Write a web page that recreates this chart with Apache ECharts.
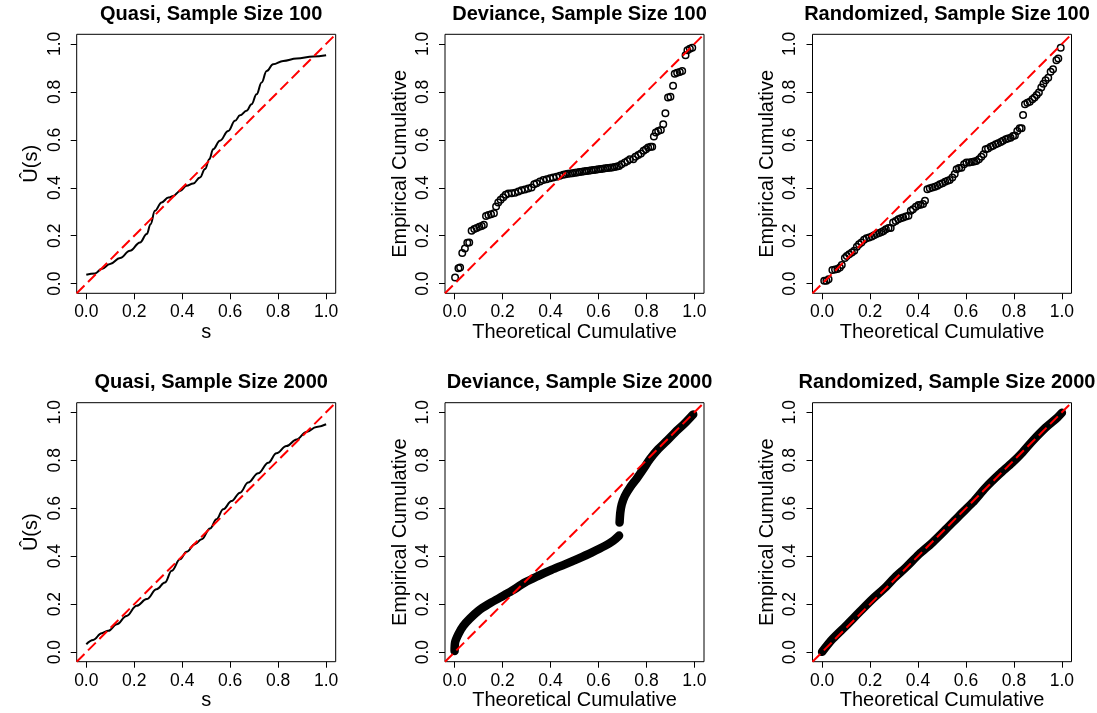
<!DOCTYPE html>
<html>
<head>
<meta charset="utf-8">
<script src="https://cdn.jsdelivr.net/npm/echarts@6.0.0/dist/echarts.min.js"></script>
<style>
  html, body { margin: 0; padding: 0; background: #fff; }
  #chart-panel { width: 1097px; height: 713px; }
</style>
</head>
<body>
<div id="chart-panel"></div>
<script>
// tick labels shared by every panel
const ticks = [0, 0.2, 0.4, 0.6, 0.8, 1.0]
const axisRange = [-0.04, 1.04]

// Quasi, n = 100 : [s, U(s)]
const quasiSmall = [
  [0.0, 0.037], [0.036, 0.043], [0.064, 0.061], [0.099, 0.082], [0.141, 0.107],
  [0.182, 0.137], [0.224, 0.172], [0.252, 0.207], [0.268, 0.248], [0.286, 0.304],
  [0.314, 0.339], [0.342, 0.359], [0.363, 0.366], [0.391, 0.387], [0.418, 0.408],
  [0.446, 0.418], [0.474, 0.443], [0.495, 0.478], [0.513, 0.519], [0.529, 0.561],
  [0.557, 0.596], [0.592, 0.637], [0.62, 0.679], [0.641, 0.702], [0.668, 0.721],
  [0.689, 0.748], [0.71, 0.79], [0.731, 0.839], [0.752, 0.887], [0.779, 0.915],
  [0.821, 0.929], [0.877, 0.939], [0.946, 0.947], [1.0, 0.953]
]

// Quasi, n = 2000
const quasiLarge = [
  [0.0, 0.033], [0.029, 0.051], [0.064, 0.079], [0.092, 0.089], [0.127, 0.116],
  [0.168, 0.151], [0.21, 0.193], [0.252, 0.221], [0.293, 0.262], [0.328, 0.29],
  [0.356, 0.339], [0.391, 0.387], [0.418, 0.418], [0.453, 0.45], [0.481, 0.471],
  [0.516, 0.515], [0.543, 0.554], [0.571, 0.596], [0.606, 0.63], [0.641, 0.665],
  [0.675, 0.707], [0.717, 0.746], [0.759, 0.79], [0.793, 0.829], [0.835, 0.859],
  [0.877, 0.887], [0.918, 0.918], [0.96, 0.939], [1.0, 0.95]
]

// Deviance, n = 100 : [theoretical, empirical]
const devSmall = [
  [0.002, 0.026], [0.016, 0.064], [0.023, 0.068], [0.032, 0.128], [0.043, 0.147],
  [0.053, 0.171], [0.061, 0.172], [0.071, 0.221], [0.082, 0.228], [0.092, 0.232],
  [0.103, 0.237], [0.113, 0.241], [0.122, 0.246], [0.131, 0.282], [0.141, 0.286],
  [0.152, 0.29], [0.164, 0.294], [0.173, 0.322], [0.182, 0.339], [0.192, 0.35],
  [0.203, 0.361], [0.213, 0.371], [0.224, 0.376], [0.238, 0.377], [0.252, 0.379],
  [0.266, 0.384], [0.279, 0.39], [0.293, 0.393], [0.307, 0.397], [0.321, 0.401],
  [0.332, 0.415], [0.342, 0.419], [0.356, 0.426], [0.37, 0.432], [0.384, 0.436],
  [0.398, 0.44], [0.411, 0.443], [0.425, 0.446], [0.439, 0.45], [0.453, 0.454],
  [0.463, 0.456], [0.472, 0.458], [0.482, 0.46], [0.492, 0.461], [0.502, 0.463],
  [0.511, 0.464], [0.521, 0.466], [0.531, 0.467], [0.541, 0.469], [0.55, 0.47],
  [0.56, 0.471], [0.57, 0.473], [0.58, 0.474], [0.589, 0.475], [0.599, 0.477],
  [0.609, 0.478], [0.618, 0.479], [0.628, 0.481], [0.638, 0.482], [0.648, 0.484],
  [0.657, 0.485], [0.667, 0.487], [0.677, 0.489], [0.686, 0.491], [0.696, 0.498],
  [0.71, 0.505], [0.721, 0.512], [0.731, 0.519], [0.745, 0.519], [0.754, 0.529],
  [0.766, 0.537], [0.777, 0.543], [0.788, 0.554], [0.798, 0.561], [0.807, 0.568],
  [0.817, 0.571], [0.824, 0.571], [0.831, 0.614], [0.839, 0.63], [0.849, 0.637],
  [0.86, 0.641], [0.87, 0.665], [0.879, 0.711], [0.89, 0.776], [0.9, 0.78],
  [0.911, 0.825], [0.918, 0.876], [0.928, 0.88], [0.939, 0.883], [0.949, 0.887],
  [0.963, 0.953], [0.971, 0.973], [0.981, 0.98], [0.991, 0.984]
]

// Deviance, n = 2000 (two runs either side of the jump)
const devLargeLow = [
  [0.0, 0.005], [0.002, 0.04], [0.016, 0.075], [0.036, 0.109], [0.064, 0.14],
  [0.099, 0.172], [0.141, 0.2], [0.189, 0.227], [0.238, 0.255], [0.293, 0.29],
  [0.349, 0.318], [0.404, 0.343], [0.46, 0.366], [0.516, 0.39], [0.571, 0.415],
  [0.627, 0.443], [0.661, 0.464], [0.686, 0.486]
]
const devLargeHigh = [
  [0.688, 0.54], [0.691, 0.582], [0.697, 0.616], [0.71, 0.651], [0.731, 0.686],
  [0.759, 0.723], [0.786, 0.762], [0.814, 0.804], [0.849, 0.846], [0.884, 0.88],
  [0.918, 0.915], [0.96, 0.954], [0.995, 0.991]
]

// Randomized, n = 100
const randSmall = [
  [0.009, 0.012], [0.018, 0.012], [0.027, 0.019], [0.043, 0.057], [0.054, 0.059],
  [0.064, 0.061], [0.074, 0.068], [0.082, 0.078], [0.095, 0.107], [0.103, 0.116],
  [0.113, 0.123], [0.124, 0.13], [0.134, 0.137], [0.145, 0.154], [0.154, 0.165],
  [0.164, 0.172], [0.175, 0.183], [0.185, 0.19], [0.196, 0.193], [0.207, 0.197],
  [0.217, 0.202], [0.227, 0.207], [0.238, 0.211], [0.248, 0.216], [0.256, 0.22],
  [0.266, 0.227], [0.277, 0.232], [0.286, 0.232], [0.296, 0.255], [0.307, 0.262],
  [0.318, 0.269], [0.328, 0.273], [0.338, 0.276], [0.349, 0.28], [0.36, 0.283],
  [0.37, 0.304], [0.379, 0.311], [0.391, 0.321], [0.402, 0.328], [0.411, 0.329],
  [0.421, 0.332], [0.429, 0.346], [0.439, 0.394], [0.449, 0.398], [0.46, 0.401],
  [0.471, 0.404], [0.481, 0.408], [0.491, 0.415], [0.502, 0.419], [0.513, 0.425],
  [0.523, 0.429], [0.532, 0.432], [0.543, 0.443], [0.553, 0.457], [0.561, 0.477],
  [0.571, 0.482], [0.581, 0.484], [0.592, 0.498], [0.602, 0.505], [0.613, 0.505],
  [0.624, 0.508], [0.634, 0.51], [0.643, 0.512], [0.654, 0.519], [0.664, 0.529],
  [0.673, 0.54], [0.682, 0.561], [0.692, 0.564], [0.703, 0.571], [0.713, 0.575],
  [0.724, 0.582], [0.734, 0.586], [0.745, 0.591], [0.754, 0.596], [0.766, 0.602],
  [0.775, 0.605], [0.786, 0.609], [0.796, 0.616], [0.804, 0.618], [0.814, 0.637],
  [0.824, 0.648], [0.832, 0.648], [0.838, 0.704], [0.846, 0.748], [0.856, 0.755],
  [0.866, 0.759], [0.877, 0.769], [0.886, 0.776], [0.895, 0.787], [0.904, 0.797],
  [0.914, 0.818], [0.923, 0.834], [0.932, 0.848], [0.943, 0.859], [0.953, 0.884],
  [0.963, 0.894], [0.977, 0.932], [0.985, 0.939], [0.995, 0.984]
]

// Randomized, n = 2000
const randLarge = [
  [0.0, 0.001], [0.043, 0.054], [0.099, 0.109], [0.154, 0.165], [0.21, 0.221],
  [0.259, 0.265], [0.3, 0.308], [0.349, 0.353], [0.404, 0.408], [0.46, 0.457],
  [0.516, 0.512], [0.571, 0.568], [0.627, 0.623], [0.682, 0.686], [0.738, 0.741],
  [0.793, 0.79], [0.835, 0.832], [0.877, 0.88], [0.932, 0.936], [0.981, 0.978],
  [1.0, 0.998]
]

const titles = [
  "Quasi, Sample Size 100", "Deviance, Sample Size 100", "Randomized, Sample Size 100",
  "Quasi, Sample Size 2000", "Deviance, Sample Size 2000", "Randomized, Sample Size 2000"
]
const xNames = ["s", "Theoretical Cumulative", "Theoretical Cumulative",
  "s", "Theoretical Cumulative", "Theoretical Cumulative"]
const yNames = ["\u00DB(s)", "Empirical Cumulative", "Empirical Cumulative",
  "\u00DB(s)", "Empirical Cumulative", "Empirical Cumulative"]

const FONT = "Liberation Sans, Arial, Helvetica, sans-serif"
const lefts = [76.7, 445, 812.5]
const tops = [34.3, 402.7]
const W = 259
const H = 259

const chart = echarts.init(document.getElementById("chart-panel"), null, { renderer: "canvas" })

const grid = [], xAxis = [], yAxis = [], title = [], series = []

for (let i = 0; i < 6; i++) {
  const left = lefts[i % 3]
  const top = tops[Math.floor(i / 3)]
  grid.push({
    left: left, top: top, width: W, height: H,
    show: true, borderColor: "#000", borderWidth: 1, backgroundColor: "#fff"
  })
  title.push({
    text: titles[i],
    left: left + W / 2,
    top: top - 35,
    textAlign: "center",
    textStyle: { fontFamily: FONT, fontSize: 20, fontWeight: "bold", color: "#000" }
  })
  const common = {
    type: "value",
    gridIndex: i,
    min: axisRange[0],
    max: axisRange[1],
    nameLocation: "middle",
    nameTextStyle: { fontFamily: FONT, fontSize: 20, color: "#000" },
    splitLine: { show: false },
    axisLine: { show: false, onZero: false },
    axisTick: { show: true, inside: false, length: 6, customValues: ticks,
      lineStyle: { color: "#000", width: 1 } }
  }
  xAxis.push(Object.assign({}, common, {
    name: xNames[i],
    nameGap: 29,
    axisLabel: { customValues: ticks, margin: 10, fontFamily: FONT, fontSize: 17.5, color: "#000",
      formatter: (v) => v.toFixed(1) }
  }))
  yAxis.push(Object.assign({}, common, {
    name: yNames[i],
    nameGap: 35,
    nameRotate: 90,
    axisLabel: { customValues: ticks, margin: 13, rotate: 90, fontFamily: FONT, fontSize: 17.5,
      color: "#000", formatter: (v) => v.toFixed(1) }
  }))
}

const smoothLine = (data, idx) => ({
  type: "line", xAxisIndex: idx, yAxisIndex: idx, data: data,
  showSymbol: false, smooth: 0.4, smoothMonotone: "x", silent: true,
  lineStyle: { color: "#000", width: 2 }, z: 2
})
const band = (data, idx) => ({
  type: "line", xAxisIndex: idx, yAxisIndex: idx, data: data,
  showSymbol: false, smooth: 0.3, silent: true,
  lineStyle: { color: "#000", width: 8.5, cap: "round", join: "round" }, z: 2
})
const circles = (data, idx) => ({
  type: "scatter", xAxisIndex: idx, yAxisIndex: idx, data: data,
  symbol: "circle", symbolSize: 6.5, silent: true,
  itemStyle: { color: "rgba(255,255,255,0)", borderColor: "#000", borderWidth: 1.5, opacity: 1 },
  z: 2
})

series.push(smoothLine(quasiSmall, 0))
series.push(circles(devSmall, 1))
series.push(circles(randSmall, 2))
series.push(smoothLine(quasiLarge, 3))
series.push(band(devLargeLow, 4))
series.push(band(devLargeHigh, 4))
series.push(band(randLarge, 5))

// the y = x reference line in every panel
for (let i = 0; i < 6; i++) {
  series.push({
    type: "line", xAxisIndex: i, yAxisIndex: i,
    data: [[axisRange[0], axisRange[0]], [axisRange[1], axisRange[1]]],
    showSymbol: false, silent: true,
    lineStyle: { color: "#ff0000", width: 2, type: [11, 5] }, z: 5
  })
}

chart.setOption({
  animation: false,
  backgroundColor: "#fff",
  title: title,
  grid: grid,
  xAxis: xAxis,
  yAxis: yAxis,
  series: series
})
</script>
</body>
</html>
